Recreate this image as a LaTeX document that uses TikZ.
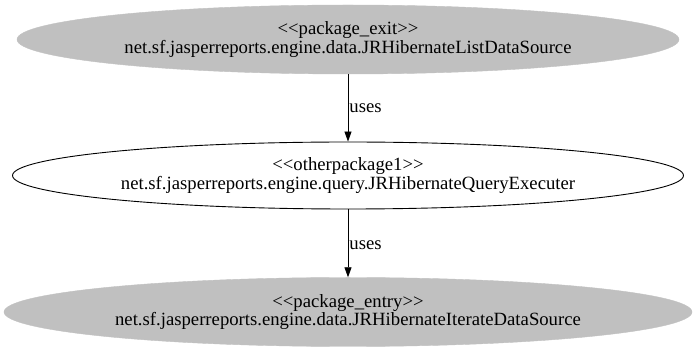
\documentclass[tikz,border=0pt]{standalone}
\usepackage{fontspec}
\setmainfont[Ligatures = NoCommon]{Liberation Serif}
\usetikzlibrary{shapes.geometric, arrows.meta}
\definecolor{pkggray}{HTML}{C0C0C0}
\tikzstyle{pkg} = [ellipse, fill = pkggray, draw = pkggray, inner sep = 0pt, minimum height = 69pt, align = center, font = \fontsize{18.7}{18.5}\selectfont]
\tikzstyle{other} = [ellipse, draw = black, line width = 0.9pt, inner sep = 0pt, minimum height = 67pt, align = center, font = \fontsize{18.7}{18.5}\selectfont]
\tikzstyle{uses} = [-{Triangle[length = 10pt, width = 7pt]}, line width = 0.8pt]

\begin{document}
\begin{tikzpicture}
            \useasboundingbox (0pt, 0pt) rectangle (696pt, -352pt);
            \node (exit) at (348pt, -39.5pt) [pkg, minimum width = 662pt] {{<}{<}package\_exit{>}{>}\\net.sf.jasperreports.engine.data.JRHibernateListDataSource};
            \node (query) at (348pt, -175.5pt) [other, minimum width = 671pt] {{<}{<}otherpackage1{>}{>}\\net.sf.jasperreports.engine.query.JRHibernateQueryExecuter};
            \node (entry) at (348pt, -312pt) [pkg, minimum width = 688pt] {{<}{<}package\_entry{>}{>}\\net.sf.jasperreports.engine.data.JRHibernateIterateDataSource};
            \draw [uses] (exit) -- node [right, inner sep = 1pt, font = \fontsize{18.7}{18.5}\selectfont, pos = 0.5] {uses} (query);
            \draw [uses] (query) -- node [right, inner sep = 1pt, font = \fontsize{18.7}{18.5}\selectfont, pos = 0.52] {uses} (entry);
        \end{tikzpicture}
\end{document}
